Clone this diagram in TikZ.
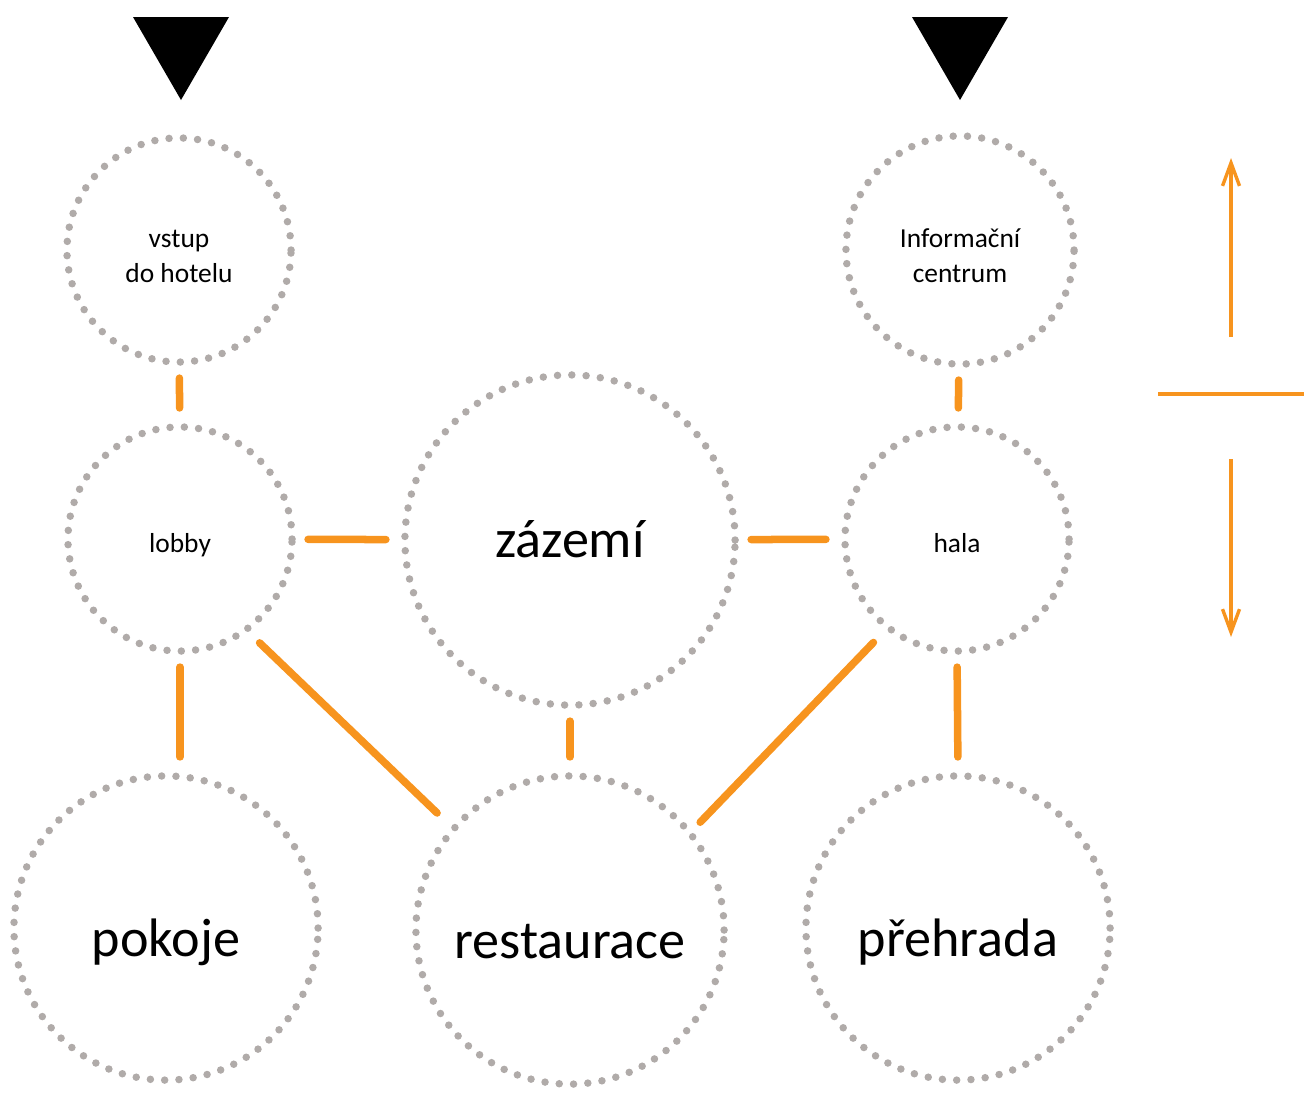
\documentclass[tikz,border=0pt]{standalone}
\usepackage{fontspec}
\setmainfont{Carlito}
\usetikzlibrary{arrows.meta}
\definecolor{linkorange}{RGB}{247,148,30}
\definecolor{dotgrey}{RGB}{176,171,169}

\begin{document}
\begin{tikzpicture}[x=0.01cm, y=-0.01cm]
\tikzset{
    room/.style={circle, draw=dotgrey, line width=0.075cm, line cap=round,
        dash pattern=on 0pt off 0.143cm, inner sep=0pt, outer sep=0pt, align=center},
    smallroom/.style={room, minimum size=2.24cm, font=\fontsize{7.8pt}{9.8pt}\selectfont,
        text height=0.26cm, text depth=0pt},
    twoline/.style={smallroom, text height=0.64cm, text depth=0pt},
    bigroom/.style={room, minimum size=3.04cm, font=\fontsize{15.4pt}{18pt}\selectfont,
        text height=0.56cm, text depth=0pt},
    link/.style={draw=linkorange, line width=0.075cm, line cap=round,
        shorten <=1.6mm, shorten >=1.9mm},
    level/.style={draw=linkorange, line width=0.034cm},
    levelarrow/.style={level, -{Straight Barb[length=2.3mm, width=1.7mm]}}
}
  \useasboundingbox (0,0) rectangle (1304,1093);

  \node[twoline] (vstup) at (179,250) {vstup\\do hotelu};
  \node[twoline, minimum size=2.28cm] (info) at (960,250) {Informační\\centrum};
  \node[smallroom] (lobby) at (180,539) {lobby};
  \node[smallroom] (hala) at (957,539) {hala};
  \node[bigroom, minimum size=3.3cm, text height=0.34cm] (zazemi) at (570,540) {zázemí};
  \node[bigroom] (pokoje) at (166,928) {pokoje};
  \node[bigroom, minimum size=3.08cm] (restaurace) at (570,930) {restaurace};
  \node[bigroom] (prehrada) at (958,928) {přehrada};

  % entrances
  \fill (133,17) -- (229,17) -- (181,100) -- cycle;
  \fill (912,17) -- (1008,17) -- (960,100) -- cycle;

  \draw[link] (vstup) -- (lobby);
  \draw[link] (info) -- (hala);
  \draw[link] (lobby) -- (zazemi);
  \draw[link] (zazemi) -- (hala);
  \draw[link] (zazemi) -- (restaurace);
  \draw[link] (lobby.south) -- (lobby.south |- pokoje.north);
  \draw[link] (hala.south) -- (prehrada.north);
  \draw[link, shorten <=1.9mm, shorten >=2.3mm] (lobby.-54) -- (restaurace.139);
  \draw[link, shorten <=2.1mm, shorten >=1.5mm] (hala.-128) -- (restaurace.39);

  % levels
  \coordinate (upfrom) at (1231,337);
  \coordinate (upto) at (1231,158);
  \coordinate (downfrom) at (1231,459);
  \coordinate (downto) at (1231,637);
  \coordinate (levelL) at (1158,394);
  \coordinate (levelR) at (1304,394);
  \draw[levelarrow] (upfrom) -- (upto);
  \draw[levelarrow] (downfrom) -- (downto);
  \draw[level] (levelL) -- (levelR);
\end{tikzpicture}
\end{document}
